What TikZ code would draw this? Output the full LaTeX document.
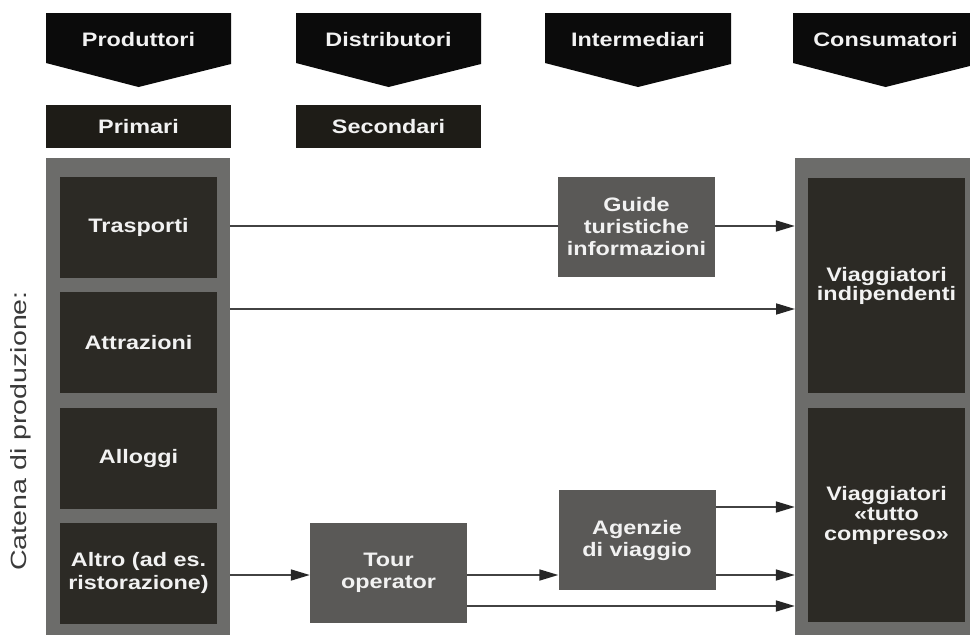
\documentclass[tikz,border=0pt]{standalone}
\usepackage{fontspec}
\setmainfont{Liberation Sans}
\newfontfamily\hb[FakeStretch=1.2]{Liberation Sans}
\newfontfamily\hrot[FakeStretch=1.3]{Liberation Sans}
\usetikzlibrary{arrows.meta}
\definecolor{hdrblack}{HTML}{0B0B0B}
\definecolor{tagdark}{HTML}{1E1C17}
\definecolor{colgray}{HTML}{6C6C6A}
\definecolor{innerdark}{HTML}{2C2A25}
\definecolor{midgray}{HTML}{5A5957}
\definecolor{linegray}{HTML}{424242}
\definecolor{arrowdark}{HTML}{262626}
\definecolor{txtwhite}{HTML}{F2F2F2}
\definecolor{rottext}{HTML}{3A3A3A}
\begin{document}
\begin{tikzpicture}[x=1pt,y=-1pt,
  boxfont/.style={font=\hb\bfseries\fontsize{19.5}{22}\selectfont, text=txtwhite, align=center},
  hdrtext/.style={boxfont, inner sep=0},
  tagbox/.style={boxfont, fill=tagdark, inner sep=0, minimum width=185pt, minimum height=43pt},
  colbox/.style={fill=colgray, inner sep=0},
  innerbox/.style={boxfont, fill=innerdark, inner sep=0, minimum width=157pt, minimum height=101pt},
  midbox/.style={boxfont, fill=midgray, inner sep=0, minimum width=157pt, minimum height=100pt},
  flow/.style={draw=linegray, line width=1.7pt},
  flowarrow/.style={flow, -{Triangle[length=19pt,width=11pt,fill=arrowdark,color=arrowdark]}}
]
\clip (0,0) rectangle (970,635);
\fill[white] (0,0) rectangle (970,635);

% header pentagons
\fill[hdrblack] (46,13) -- (231,13) -- (231,64) -- (138.5,87) -- (46,63) -- cycle;
\fill[hdrblack] (296,13) -- (481,13) -- (481,64) -- (388.5,87) -- (296,63) -- cycle;
\fill[hdrblack] (545,13) -- (731,13) -- (731,64) -- (638,87) -- (545,63) -- cycle;
\fill[hdrblack] (793,13) -- (978,13) -- (978,64) -- (885.5,87) -- (793,63) -- cycle;
\node[hdrtext] (hprod) at (138.5,40) {Produttori};
\node[hdrtext] (hdist) at (388.5,40) {Distributori};
\node[hdrtext] (hint) at (638,40) {Intermediari};
\node[hdrtext] (hcons) at (885.5,40) {Consumatori};

% tags
\node[tagbox] (prim) at (138.5,126.5) {Primari};
\node[tagbox] (sec) at (388.5,126.5) {Secondari};

% producer column
\node[colbox, minimum width=184pt, minimum height=482pt] (prodcol) at (138,399) {};
\node[innerbox] (trasp) at (138.5,227.5) {Trasporti};
\node[innerbox] (attr) at (138.5,342.5) {Attrazioni};
\node[innerbox] (allog) at (138.5,458) {Alloggi};
\node[innerbox] (altro) at (138.5,573) {Altro (ad es.\\[1pt]ristorazione)};

% consumer column
\node[colbox, minimum width=180pt, minimum height=482pt] (conscol) at (885,399) {};
\node[boxfont, fill=innerdark, inner sep=0, minimum width=157pt, minimum height=215pt] (indip) at (886.5,285.5) {Viaggiatori\\[-3pt]indipendenti};
\node[boxfont, fill=innerdark, inner sep=0, minimum width=157pt, minimum height=214pt] (tutto) at (886.5,515) {Viaggiatori\\[-2pt]«tutto\\[-2pt]compreso»};

% intermediaries
\node[midbox] (guide) at (636.5,227) {Guide\\turistiche\\informazioni};
\node[midbox] (agenz) at (637,540) {Agenzie\\di viaggio};
\node[midbox] (tour) at (388.5,573) {Tour\\operator};

% rotated label
\node[font=\hrot\fontsize{22}{24}\selectfont, text=rottext, rotate=90, inner sep=0] (catena) at (21,431) {Catena di produzione:};

% connectors
\coordinate (a1) at (230,309);
\coordinate (a2) at (795,309);
\draw[flow] (prodcol.east |- 0,226) -- (guide.west |- 0,226);
\draw[flowarrow] (guide.east |- 0,226) -- (conscol.west |- 0,226);
\draw[flowarrow] (a1) -- (a2);
\draw[flowarrow] (prodcol.east |- 0,575) -- (tour.west |- 0,575);
\draw[flowarrow] (tour.east |- 0,575) -- (agenz.west |- 0,575);
\draw[flowarrow] (agenz.east |- 0,507) -- (conscol.west |- 0,507);
\draw[flowarrow] (agenz.east |- 0,575) -- (conscol.west |- 0,575);
\draw[flowarrow] (tour.east |- 0,606) -- (conscol.west |- 0,606);
\end{tikzpicture}
\end{document}
